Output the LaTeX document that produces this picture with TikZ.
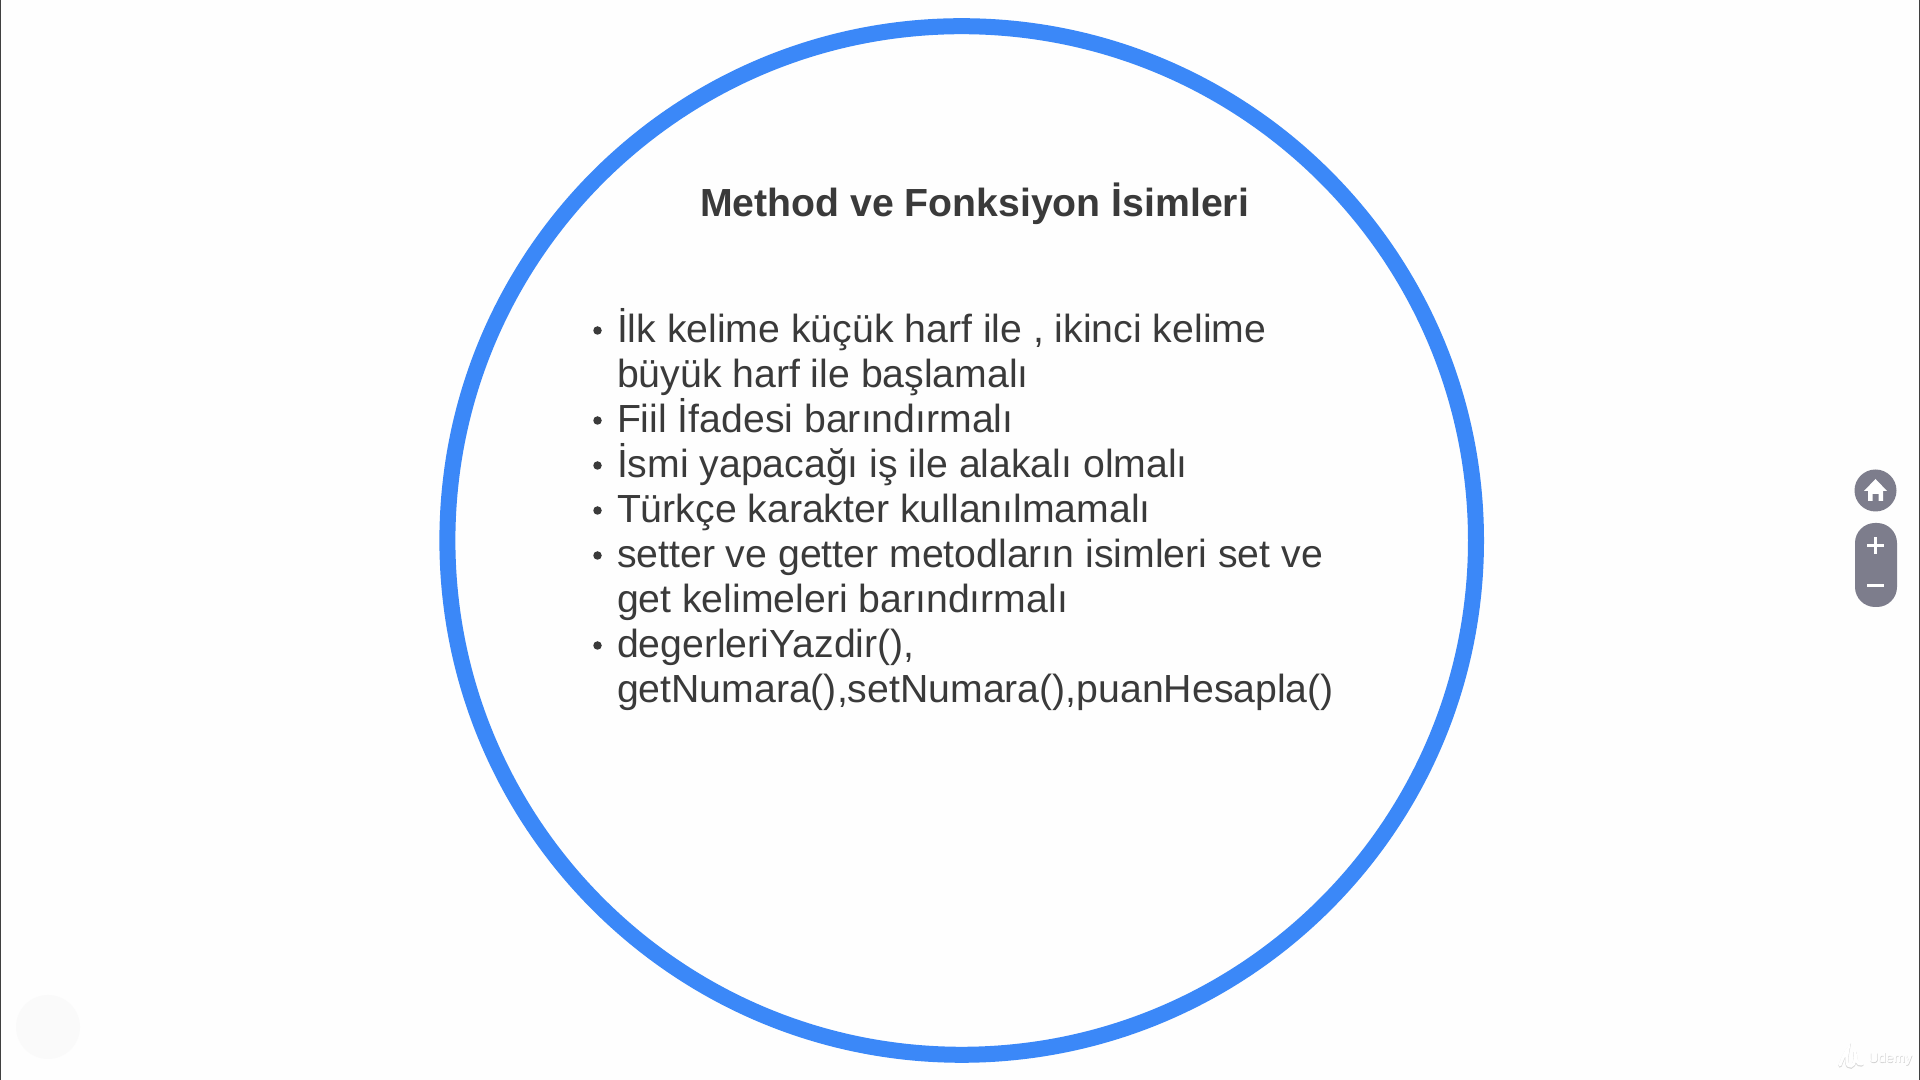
\documentclass[tikz,border=0pt]{standalone}
\usepackage{fontspec}
\setmainfont{Liberation Sans}
\definecolor{ringblue}{HTML}{3B88F8}
\definecolor{bodyink}{HTML}{3A3A3A}
\definecolor{ctrl}{HTML}{7D7D8C}
\definecolor{bg}{HTML}{FEFEFE}
\tikzset{
  px/.style={x=0.01cm,y=-0.01cm},
  bodyline/.style={anchor=base west,inner sep=0pt,outer sep=0pt,text=bodyink,font=\fontsize{11.15pt}{13pt}\selectfont},
  titleline/.style={anchor=base west,inner sep=0pt,outer sep=0pt,text=bodyink,font=\fontsize{11.15pt}{13pt}\selectfont\bfseries},
  dot/.style={circle,fill=bodyink,inner sep=0pt,minimum size=0.085cm},
  ctrlfill/.style={fill=ctrl,draw=none},
  glyph/.style={draw=white,line width=0.03cm}
}
\begin{document}
\begin{tikzpicture}[px]
\useasboundingbox (0,0) rectangle (1920,1080);
\fill[bg] (0,0) rectangle (1920,1080);
\fill[black!75] (0,0) rectangle (1.5,1080);
\fill[black!75] (1918.5,0) rectangle (1920,1080);
% faint watermark
\fill[black!2] (48,1027) circle (32);
% ring
\node[circle,draw=ringblue,line width=0.16cm,minimum size=10.28cm,inner sep=0pt,fill=none] (ring) at (961.7,540.5) {};
% title
\node[titleline] (title) at (700,217) {Method ve Fonksiyon İsimleri};
% body
\foreach \n/\y in {a/330.5,b/420.5,c/465.5,d/510.5,e/555.5,f/645.5}{\node[dot] (b\n) at (597.5,\y) {};}
\node[bodyline] (l1) at (617,343) {İlk kelime küçük harf ile , ikinci kelime};
\node[bodyline] (l2) at (617,388) {büyük harf ile başlamalı};
\node[bodyline] (l3) at (617,433) {Fiil İfadesi barındırmalı};
\node[bodyline] (l4) at (617,478) {İsmi yapacağı iş ile alakalı olmalı};
\node[bodyline] (l5) at (617,523) {Türkçe karakter kullanılmamalı};
\node[bodyline] (l6) at (617,568) {setter ve getter metodların isimleri set ve};
\node[bodyline] (l7) at (617,613) {get kelimeleri barındırmalı};
\node[bodyline] (l8) at (617,658) {degerleriYazdir(),};
\node[bodyline] (l9) at (617,703) {getNumara(),setNumara(),puanHesapla()};
% controls
\fill[ctrlfill] (1875.5,490.5) circle (21);
\fill[white] (1875.5,479) -- (1887,491) -- (1883,491) -- (1883,501) -- (1878.5,501) -- (1878.5,494) -- (1872.5,494) -- (1872.5,501) -- (1868,501) -- (1868,491) -- (1864,491) -- cycle;
\fill[ctrlfill,rounded corners=0.2cm] (1855,523) rectangle (1897,607);
\draw[glyph] (1867,546) -- (1884,546);
\draw[glyph] (1875.5,537.5) -- (1875.5,554.5);
\draw[glyph] (1867,586) -- (1884,586);
% udemy mark
\draw[black!15,line width=0.035cm,line cap=round] (1840,1066) .. controls (1843,1058) and (1846,1052) .. (1848,1050) .. controls (1846,1060) and (1846,1068) .. (1851,1067) .. controls (1855,1066) and (1856,1058) .. (1855,1052) .. controls (1855,1060) and (1857,1066) .. (1862,1065);
\draw[white,line width=0.03cm,line cap=round] (1840,1065) .. controls (1843,1057) and (1846,1051) .. (1848,1049) .. controls (1846,1059) and (1846,1067) .. (1851,1066) .. controls (1855,1065) and (1856,1057) .. (1855,1051) .. controls (1855,1059) and (1857,1065) .. (1862,1064);
\node[anchor=base west,inner sep=0pt,text=black!18,font=\fontsize{3.9pt}{5pt}\selectfont] (udemyS) at (1868.5,1064) {Udemy};
\node[anchor=base west,inner sep=0pt,text=white,font=\fontsize{3.9pt}{5pt}\selectfont] (udemy) at (1868,1063) {Udemy};
\end{tikzpicture}
\end{document}
